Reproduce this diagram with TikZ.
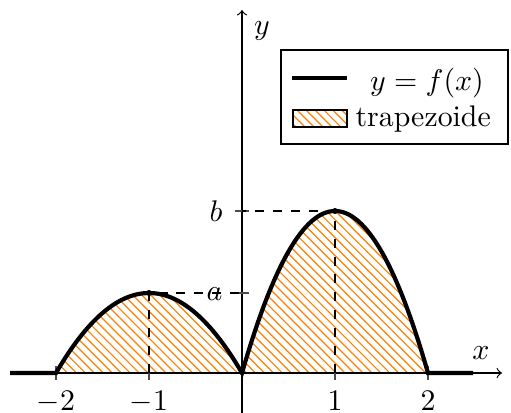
\documentclass[tikz,border=0pt]{standalone}
\usetikzlibrary{patterns}
\begin{document}
\begin{tikzpicture}[x=0.335pt,y=-0.335pt,
  axisline/.style={line width=0.4pt,->},
  fcurve/.style={line width=1.4pt},
  guide/.style={dashed,line width=0.4pt},
  hatch/.style={pattern=north west lines,pattern color=orange},
  tickline/.style={line width=0.4pt,black!70},
  lbl/.style={inner sep=0pt}]
\useasboundingbox (0,0) rectangle (511,413);
% coordinates
\coordinate (O) at (242,373);
\coordinate (xl) at (10,373);
\coordinate (xr) at (502,373);
\coordinate (ybot) at (242,413);
\coordinate (ytop) at (242,10);
\coordinate (m2) at (56,373);
\coordinate (m1) at (149,373);
\coordinate (p1) at (335,373);
\coordinate (p2) at (428,373);
\coordinate (A) at (149,293);
\coordinate (B) at (335,211);
\coordinate (ya) at (242,293);
\coordinate (yb) at (242,211);
\coordinate (xend) at (473,373);
% hatched areas
\fill[hatch] (m2) .. controls (118,266.33) and (180,266.33) .. (O) -- cycle;
\fill[hatch] (O) .. controls (304,157) and (366,157) .. (p2) -- cycle;
% axes
\draw[axisline] (xl) -- (xr);
\draw[axisline] (ybot) -- (ytop);
% ticks
\foreach \c in {m2,m1,p1,p2} \draw[tickline] (\c) ++(0,-7) -- ++(0,14);
\foreach \c in {ya,yb} \draw[tickline] (\c) ++(-7,0) -- ++(14,0);
% guides
\draw[guide] (m1) -- (A) -- (ya);
\draw[guide] (p1) -- (B) -- (yb);
% curve
\draw[fcurve] (xl) -- (m2) .. controls (118,266.33) and (180,266.33) .. (O)
  .. controls (304,157) and (366,157) .. (p2) -- (xend);
\fill (A) circle (3);
\fill (B) circle (3);
% labels
\node[lbl,anchor=north] (lm2) at (56,391) {$-2$};
\node[lbl,anchor=north] (lm1) at (149,391) {$-1$};
\node[lbl,anchor=north] (lp1) at (335,391) {$1$};
\node[lbl,anchor=north] (lp2) at (428,391) {$2$};
\node[lbl,anchor=east] (la) at (223,294) {$a$};
\node[lbl,anchor=east] (lb) at (223,211) {$b$};
\node (lx) at (481,353) {$x$};
\node (ly) at (262,31) {$y$};
% legend
\draw[line width=0.4pt] (281,50) rectangle (508,144);
\draw[fcurve] (292,78) -- (347,78);
\node (leg1) at (427,83) {$y = f(x)$};
\draw[hatch,line width=0.4pt] (293,110) rectangle (347,127);
\node[lbl,anchor=west] (leg2) at (355,119) {trapezoide};
\end{tikzpicture}
\end{document}
